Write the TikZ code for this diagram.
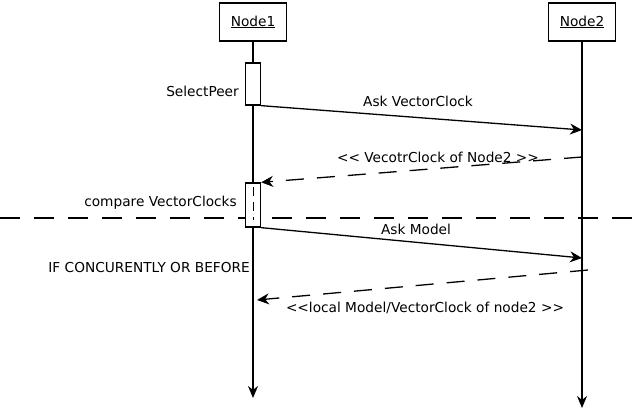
\documentclass[tikz,border=0pt]{standalone}
\usepackage{fontspec}
\setmainfont{DejaVu Sans}
\usetikzlibrary{arrows.meta}

\newcommand{\menores}{<\kern0pt<}
\newcommand{\mayores}{>\kern0pt>}

\tikzset{
  objeto/.style={draw, line width=1.3pt, minimum width=67pt, minimum height=38pt, inner sep=0pt},
  activa/.style={draw, line width=1.3pt, fill=white, minimum width=15pt, inner sep=0pt},
  vida/.style={line width=1.3pt, -{Stealth[length=12pt,width=10pt]}},
  msg/.style={line width=1.3pt, -{Stealth[length=12pt,width=11pt]}},
  resp/.style={line width=1.3pt, dash pattern=on 18pt off 13pt, -{Stealth[length=12pt,width=11pt]}},
  etq/.style={inner sep=0pt}
}

\begin{document}
\begin{tikzpicture}[x=1pt, y=-1pt, font=\fontsize{13.7}{16}\selectfont]
        \useasboundingbox (0,0) rectangle (636,411);

        % Separador
        \coordinate (sepi) at (0,218);
        \coordinate (sepd) at (636,218);
        \draw[line width=1.3pt, dash pattern=on 20pt off 14pt] (sepi) -- (sepd);

        % Objetos y lineas de vida
        \node[objeto] (n1) at (253,22) {\underline{Node1}};
        \node[objeto] (n2) at (582,22) {\underline{Node2}};
        \coordinate (fin1) at (253,398);
        \coordinate (fin2) at (582,408);
        \draw[vida] (n1.south) -- (fin1);
        \draw[vida] (n2.south) -- (fin2);

        % Activaciones
        \node[activa, minimum height=42pt] (a1) at (253,84) {};
        \node[activa, minimum height=44pt] (a2) at (253,205) {};
        \draw[line width=0.8pt, dash pattern=on 9pt off 6pt] ([yshift=-5pt]a2.north) -- ([yshift=8pt]a2.south);

        % Mensajes
        \coordinate (r1) at (582,130);
        \coordinate (s1) at (582,157);
        \coordinate (r2) at (582,258);
        \coordinate (s2) at (588,270);
        \coordinate (l2) at (257,300);
        \draw[msg] (a1.south east) -- (r1);
        \draw[resp] (s1) -- (a2.north east);
        \draw[msg] (a2.south east) -- (r2);
        \draw[resp] (s2) -- (l2);

        % Etiquetas
        \node[etq, anchor=east] (t1) at (239,91) {SelectPeer};
        \node[etq] (t2) at (418,101) {Ask VectorClock};
        \node[etq] (t3) at (438,157) {\menores{} VecotrClock of Node2 \mayores};
        \node[etq, anchor=east] (t4) at (237,203) {compare VectorClocks};
        \node[etq] (t5) at (416,229) {Ask Model};
        \node[etq, anchor=east] (t6) at (250,268) {IF CONCURENTLY OR BEFORE};
        \node[etq] (t7) at (425,308) {\menores local Model/VectorClock of node2 \mayores};
    \end{tikzpicture}
\end{document}
